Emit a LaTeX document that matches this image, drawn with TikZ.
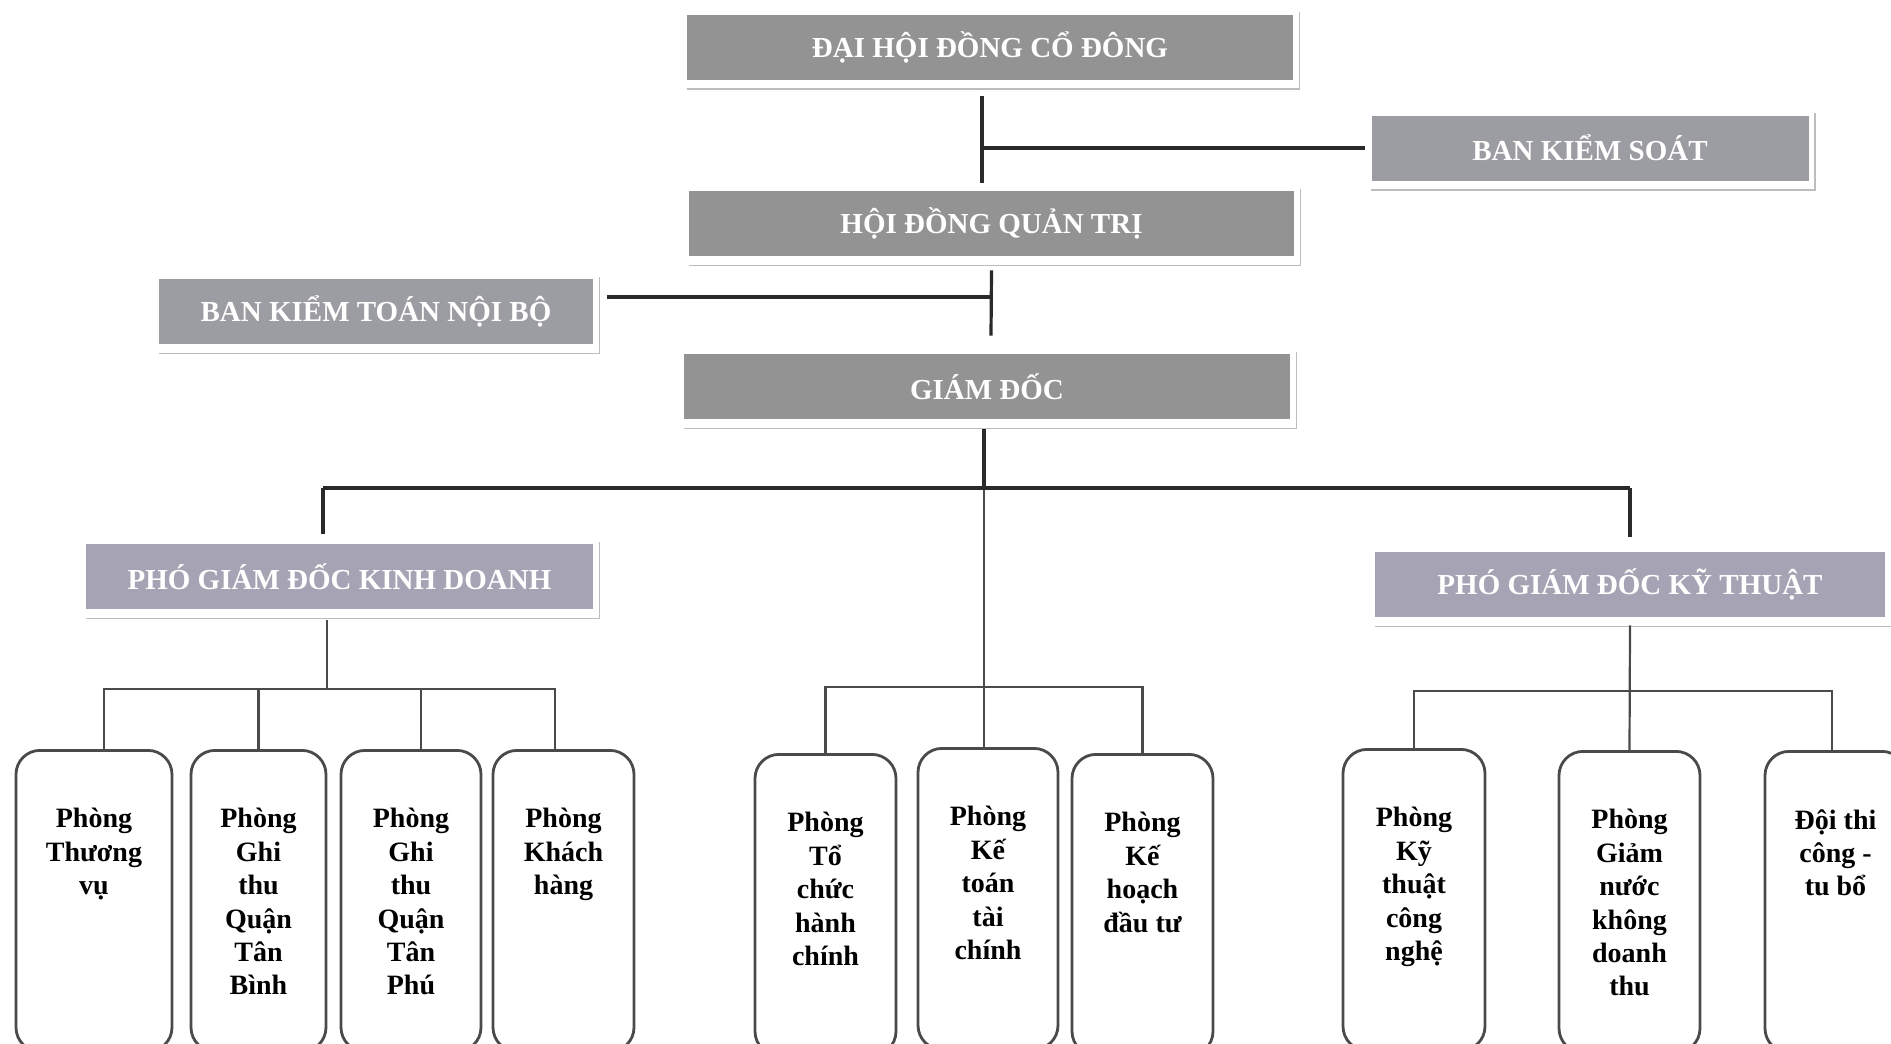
\documentclass[tikz,border=0pt]{standalone}
\usepackage{fontspec}
\setmainfont{Liberation Serif}
\definecolor{boxgray}{HTML}{939393}
\definecolor{boxgraytwo}{HTML}{9C9CA3}
\definecolor{boxlav}{HTML}{A6A4B4}
\definecolor{shadowgray}{HTML}{BDBDBD}
\definecolor{linedark}{HTML}{2A2A2A}
\definecolor{linemid}{HTML}{4A4A4A}
\tikzset{
  headbox/.style={rectangle, fill=boxgray, text=white, font=\bfseries\fontsize{14.5}{17}\selectfont, inner sep=0pt, minimum height=32.5pt},
  deptbox/.style={rectangle, rounded corners=12pt, draw=linemid, line width=1.4pt, fill=white, inner sep=0pt, minimum height=150.5pt, anchor=north},
  depttext/.style={anchor=north, align=center, font=\bfseries\fontsize{14}{16.7}\selectfont, inner sep=0pt, text=black},
  mainconn/.style={draw=linedark, line width=1.6pt},
  subconn/.style={draw=linemid, line width=1.1pt},
  shadowline/.style={draw=shadowgray, line width=0.9pt},
}
\newcommand\shadowfor[1]{\draw[shadowline] ([yshift=-4.5pt]#1.south west) -- ([xshift=3pt,yshift=-4.5pt]#1.south east) -- ([xshift=3pt,yshift=1pt]#1.north east);}
\begin{document}
\begin{tikzpicture}[x=0.5pt,y=-0.5pt]
\useasboundingbox (0,0) rectangle (1891,1044);

% head boxes
\node[headbox, minimum width=303pt] (dh) at (990,47) {ĐẠI HỘI ĐỒNG CỔ ĐÔNG};
\node[headbox, fill=boxgraytwo, minimum width=218.5pt] (bks) at (1590,148) {BAN KIỂM SOÁT};
\node[headbox, minimum width=302.5pt] (hq) at (991.5,223.5) {HỘI ĐỒNG QUẢN TRỊ};
\node[headbox, fill=boxgraytwo, minimum width=217pt] (bk) at (376,311.5) {BAN KIỂM TOÁN NỘI BỘ};
\node[headbox, minimum width=303pt] (gd) at (987,386.5) {GIÁM ĐỐC};
\node[headbox, fill=boxlav, minimum width=253.5pt] (kd) at (339.5,576.5) {PHÓ GIÁM ĐỐC KINH DOANH};
\node[headbox, fill=boxlav, minimum width=255pt] (kt) at (1630,584.5) {PHÓ GIÁM ĐỐC KỸ THUẬT};
\shadowfor{dh}\shadowfor{bks}\shadowfor{hq}\shadowfor{bk}\shadowfor{gd}\shadowfor{kd}\shadowfor{kt}

% department boxes
\node[deptbox, minimum width=78pt] (b1) at (94,749) {};
\node[deptbox, minimum width=67.5pt] (b2) at (258.5,749) {};
\node[deptbox, minimum width=70pt] (b3) at (411,749) {};
\node[deptbox, minimum width=70.5pt] (b4) at (563.5,749) {};
\node[deptbox, minimum width=70.5pt] (m1) at (825.5,753) {};
\node[deptbox, minimum width=70pt] (m2) at (988,747) {};
\node[deptbox, minimum width=70.5pt] (m3) at (1142.5,753) {};
\node[deptbox, minimum width=71pt] (r1) at (1414,748) {};
\node[deptbox, minimum width=70.5pt] (r2) at (1629.5,750) {};
\node[deptbox, minimum width=70.5pt] (r3) at (1835.5,750) {};

\node[depttext] (t1) at ([yshift=-29.5pt]b1.north) {Phòng\\Thương\\vụ};
\node[depttext] (t2) at ([yshift=-29.5pt]b2.north) {Phòng\\Ghi\\thu\\Quận\\Tân\\Bình};
\node[depttext] (t3) at ([yshift=-29.5pt]b3.north) {Phòng\\Ghi\\thu\\Quận\\Tân\\Phú};
\node[depttext] (t4) at ([yshift=-29.5pt]b4.north) {Phòng\\Khách\\hàng};
\node[depttext] (t5) at ([yshift=-29.5pt]m1.north) {Phòng\\Tổ\\chức\\hành\\chính};
\node[depttext] (t6) at ([yshift=-29.5pt]m2.north) {Phòng\\Kế\\toán\\tài\\chính};
\node[depttext] (t7) at ([yshift=-29.5pt]m3.north) {Phòng\\Kế\\hoạch\\đầu tư};
\node[depttext] (t8) at ([yshift=-29.5pt]r1.north) {Phòng\\Kỹ\\thuật\\công\\nghệ};
\node[depttext] (t9) at ([yshift=-29.5pt]r2.north) {Phòng\\Giảm\\nước\\không\\doanh\\thu};
\node[depttext] (t10) at ([yshift=-29.5pt]r3.north) {Đội thi\\công -\\tu bổ};

% upper connectors
\coordinate (j1) at (982,148);
\coordinate (j2) at (991,297);
\draw[mainconn] ([xshift=-4pt,yshift=-8pt]dh.south) -- ([xshift=-4.75pt,yshift=4pt]hq.north);
\draw[mainconn] (j1) -- ([xshift=-3pt]bks.west);
\draw[mainconn] ([yshift=-7pt]hq.south) -- ([xshift=2pt,yshift=9pt]gd.north);
\draw[mainconn] (j2) -- ([xshift=7pt]j2 -| bk.east);

% director level
\coordinate (jl) at (323,488);
\coordinate (jr) at (1630,488);
\coordinate (jm) at (984,687);
\draw[mainconn] ([xshift=-1.5pt,yshift=-5pt]gd.south) -- (jm |- jl);
\draw[subconn] (jm |- jl) -- (jm);
\draw[mainconn] (jl) -- (jr);
\draw[mainconn] (jl) -- ([xshift=-8.25pt,yshift=5pt]kd.north);
\draw[mainconn] (jr) -- ([yshift=7.5pt]kt.north);

% business group
\coordinate (jk) at (327,689);
\draw[subconn] ([xshift=-6.25pt,yshift=-5.5pt]kd.south) -- (jk);
\draw[subconn] ([xshift=5pt]b1.north) |- (jk);
\draw[subconn] (b2.north) |- (jk);
\draw[subconn] ([xshift=5pt]b3.north) |- (jk);
\draw[subconn] ([xshift=-4.25pt]b4.north) |- (jk);

% middle group
\draw[subconn] (jm) -- ([xshift=-2pt]m2.north);
\draw[subconn] (m1.north) |- (jm);
\draw[subconn] (m3.north) |- (jm);

% technical group
\coordinate (jt) at (1630,691);
\draw[subconn] ([yshift=-4pt]kt.south) -- (r2.north);
\draw[subconn] (r1.north) |- (jt);
\draw[subconn] ([xshift=-1.75pt]r3.north) |- (jt);
\end{tikzpicture}
\end{document}
